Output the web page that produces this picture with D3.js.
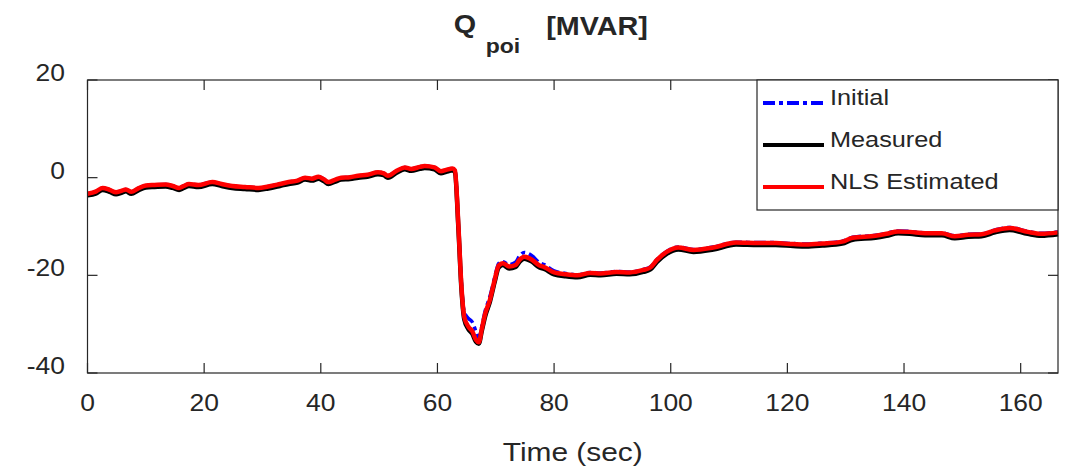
<!DOCTYPE html>
<html>
<head>
<meta charset="utf-8">
<script src="https://cdn.jsdelivr.net/npm/d3@7"></script>
<style>
  body { margin: 0; background: #fff; }
  text { font-family: "Liberation Sans", Arial, sans-serif; fill: #262626; }
</style>
</head>
<body>
<script>
// time samples (sec)
const time = [0, 1.5, 2.6, 3.8, 4.9, 5.8, 6.6, 7.5, 8.7, 10, 11.5, 13.4, 14.6, 15.7, 16.5, 17.4, 19, 21.4, 23, 24.8,
  27, 29.3, 31, 33, 34.5, 36, 37.3, 38.5, 39.6, 40.5, 41.3, 42.5, 43.5, 45, 46.4, 48, 49.8, 50.8, 51.5, 53,
  54.4, 55.5, 57, 57.8, 59.5, 60.6, 61.5, 62.6, 63.0, 63.6, 64.1, 64.6, 65.3, 66.0, 66.6, 67.1, 67.6, 68.2, 69.0, 69.8,
  70.5, 71.2, 72.3, 73.4, 74.1, 74.9, 76.2, 77.5, 78.3, 80, 82, 84, 86.2, 88, 90.7, 93, 95.3, 96.5, 97.6, 99.3,
  101.3, 103.9, 107.3, 111.2, 115, 118, 121, 123.2, 126, 129.4, 131.2, 135.1, 137, 139, 141, 143.6, 146.5, 148.7, 151, 153.3,
  155.6, 158.1, 161.2, 163.5, 166.4]

// NLS estimated (red)
const nlsEstimated = [-3.3, -2.8, -2.1, -2.5, -3.0, -2.7, -2.4, -2.9, -2.2, -1.6, -1.5, -1.4, -1.7, -2.1, -1.7, -1.3, -1.5, -0.9, -1.3, -1.7,
  -1.9, -2.1, -1.8, -1.3, -0.9, -0.6, 0.0, -0.2, 0.2, -0.3, -0.9, -0.4, 0.0, 0.1, 0.4, 0.6, 1.1, 0.9, 0.4, 1.4,
  2.1, 1.8, 2.2, 2.4, 2.1, 1.3, 1.6, 1.9, 1.5, -10, -22, -28.5, -30.5, -31.5, -33.2, -33.7, -31, -27.8, -25, -21,
  -18, -17.5, -18.2, -17.9, -16.8, -16.2, -16.8, -18, -18.3, -19.4, -19.8, -20, -19.5, -19.6, -19.3, -19.4, -18.9, -18.4, -16.9, -15.2,
  -14.3, -14.8, -14.3, -13.3, -13.4, -13.4, -13.6, -13.7, -13.5, -13.1, -12.3, -11.9, -11.5, -11.0, -11.1, -11.4, -11.4, -12.0, -11.7, -11.6,
  -10.8, -10.3, -11.1, -11.5, -11.2]

// measured (black)
const measured = [-3.6, -3.2, -2.5, -2.9, -3.4, -3.1, -2.8, -3.3, -2.6, -2.0, -1.9, -1.8, -2.1, -2.5, -2.1, -1.7, -1.9, -1.3, -1.7, -2.1,
  -2.3, -2.5, -2.2, -1.7, -1.3, -1.0, -0.4, -0.6, -0.2, -0.7, -1.3, -0.8, -0.4, -0.3, 0.0, 0.2, 0.7, 0.5, 0.0, 1.0,
  1.7, 1.4, 1.8, 2.0, 1.7, 0.9, 1.2, 1.5, 1.1, -10.5, -22.5, -29, -31, -32, -33.6, -34, -31.4, -28.3, -25.4, -21.4,
  -18.4, -17.9, -18.6, -18.3, -17.2, -16.6, -17.2, -18.4, -18.7, -19.8, -20.2, -20.4, -19.9, -20.0, -19.7, -19.8, -19.3, -18.8, -17.3, -15.6,
  -14.7, -15.2, -14.7, -13.7, -13.8, -13.8, -14.0, -14.1, -13.9, -13.5, -12.7, -12.3, -11.9, -11.4, -11.5, -11.8, -11.8, -12.4, -12.1, -12.0,
  -11.2, -10.7, -11.5, -11.9, -11.6]

// initial guess (blue, dash-dot)
const initial = [-3.3, -2.8, -2.1, -2.5, -3.0, -2.7, -2.4, -2.9, -2.2, -1.6, -1.5, -1.4, -1.7, -2.1, -1.7, -1.3, -1.5, -0.9, -1.3, -1.7,
  -1.9, -2.1, -1.8, -1.3, -0.9, -0.6, 0.0, -0.2, 0.2, -0.3, -0.9, -0.4, 0.0, 0.1, 0.4, 0.6, 1.1, 0.9, 0.4, 1.4,
  2.1, 1.8, 2.2, 2.4, 2.1, 1.3, 1.6, 1.9, 1.5, -10, -21.5, -27.5, -28.8, -29.6, -31.5, -33, -30.5, -27.2, -24.3, -20.5,
  -17.6, -17.2, -17.8, -17.3, -16, -15.3, -16, -17.4, -17.8, -19.1, -19.6, -19.9, -19.4, -19.5, -19.2, -19.3, -18.8, -18.3, -16.8, -15.1,
  -14.2, -14.7, -14.2, -13.2, -13.3, -13.3, -13.5, -13.6, -13.4, -13.0, -12.2, -11.8, -11.4, -10.9, -11.0, -11.3, -11.3, -11.9, -11.6, -11.5,
  -10.7, -10.2, -11.0, -11.4, -11.1]

const xTicks = [0, 20, 40, 60, 80, 100, 120, 140, 160]
const yTicks = [20, 0, -20, -40]
const legendLabels = ["Initial", "Measured", "NLS Estimated"]

const w = 1071
const h = 468
const margin = {left: 87.5, right: 13, top: 80, bottom: 95}
const sx = 1.15 // text in the reference is a bit wider than Arial

const svg = d3.select("body")
  .append("svg")
  .attr("width", w)
  .attr("height", h)

const xScale = d3.scaleLinear()
  .domain([0, 166.4])
  .range([margin.left, w - margin.right])
const yScale = d3.scaleLinear()
  .domain([-40, 20])
  .range([h - margin.bottom, margin.top])

const x0 = xScale.range()[0], x1 = xScale.range()[1]
const y0 = yScale.range()[0], y1 = yScale.range()[1]

// stretched text helper
function label(g, x, y, str, size, anchor, weight) {
  return g.append("text")
    .attr("transform", `translate(${x},${y}) scale(${sx},1)`)
    .attr("text-anchor", anchor || "middle")
    .style("font-size", size + "px")
    .style("font-weight", weight || "normal")
    .text(str)
}

// lines
const line = ys => d3.line()
  .x((d, i) => xScale(time[i]))
  .y(d => yScale(d))
  .curve(d3.curveMonotoneX)(ys)

svg.append("path")
  .attr("d", line(initial))
  .attr("fill", "none")
  .attr("stroke", "#0000ff")
  .attr("stroke-width", 3.5)
  .attr("stroke-dasharray", "12,4,4,4")
svg.append("path")
  .attr("d", line(measured))
  .attr("fill", "none")
  .attr("stroke", "#000")
  .attr("stroke-width", 4.5)
svg.append("path")
  .attr("d", line(nlsEstimated))
  .attr("fill", "none")
  .attr("stroke", "#ff0000")
  .attr("stroke-width", 4.5)

// axes box
const axisColor = "#262626"
const axes = svg.append("g")
axes.append("rect")
  .attr("x", x0).attr("y", y1)
  .attr("width", x1 - x0).attr("height", y0 - y1)
  .attr("fill", "none")
  .attr("stroke", axisColor)
  .attr("stroke-width", 1.2)

const tickLen = 10
xTicks.forEach(t => {
  const x = xScale(t)
  axes.append("line").attr("x1", x).attr("x2", x).attr("y1", y0).attr("y2", y0 - tickLen)
    .attr("stroke", axisColor).attr("stroke-width", 1.2)
  axes.append("line").attr("x1", x).attr("x2", x).attr("y1", y1).attr("y2", y1 + tickLen)
    .attr("stroke", axisColor).attr("stroke-width", 1.2)
  label(axes, x, y0 + 38, t, 23)
})
yTicks.forEach(t => {
  const y = yScale(t)
  axes.append("line").attr("x1", x0).attr("x2", x0 + tickLen).attr("y1", y).attr("y2", y)
    .attr("stroke", axisColor).attr("stroke-width", 1.2)
  axes.append("line").attr("x1", x1).attr("x2", x1 - tickLen).attr("y1", y).attr("y2", y)
    .attr("stroke", axisColor).attr("stroke-width", 1.2)
  label(axes, 65, y + 1, t, 23, "end")
})

// axis title
label(svg, (x0 + x1) / 2, 461, "Time (sec)", 26)

// chart title
label(svg, 465, 33, "Q", 25, "middle", "bold")
label(svg, 503, 53, "poi", 20, "middle", "bold")
label(svg, 597, 35, "[MVAR]", 25, "middle", "bold")

// legend
const legend = svg.append("g").attr("id", "legend")
legend.append("rect")
  .attr("x", 757).attr("y", y1)
  .attr("width", x1 - 757).attr("height", 130)
  .attr("fill", "#fff")
  .attr("stroke", axisColor)
  .attr("stroke-width", 1.2)
const legendColors = ["#0000ff", "#000", "#ff0000"]
legendLabels.forEach((name, i) => {
  const y = 103 + i * 42
  legend.append("line")
    .attr("x1", 763).attr("x2", 824)
    .attr("y1", y).attr("y2", y)
    .attr("stroke", legendColors[i])
    .attr("stroke-width", 4)
    .attr("stroke-dasharray", i === 0 ? "12,4,4,4" : null)
  label(legend, 830, y + 2, name, 22, "start")
})
</script>
</body>
</html>
